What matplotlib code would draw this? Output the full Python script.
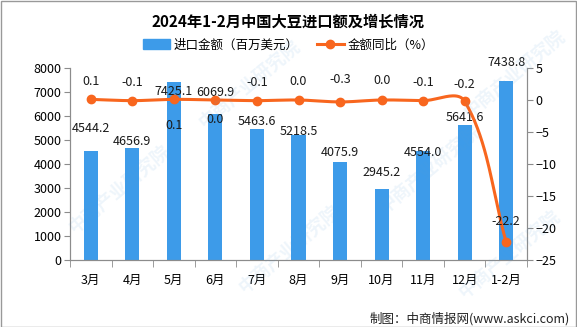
import numpy as np
import matplotlib
matplotlib.use("Agg")
import matplotlib.pyplot as plt
from matplotlib.patches import Rectangle
from matplotlib.lines import Line2D
from matplotlib.patches import Patch

plt.rcParams['font.family'] = ['Noto Sans CJK SC', 'DejaVu Sans']

months = ['3月', '4月', '5月', '6月', '7月', '8月', '9月', '10月', '11月', '12月', '1-2月']
amount = [4544.2, 4656.9, 7425.1, 6069.9, 5463.6, 5218.5, 4075.9, 2945.2, 4554.0, 5641.6, 7438.8]
growth = [0.1, -0.1, 0.1, 0.0, -0.1, 0.0, -0.3, 0.0, -0.1, -0.2, -22.2]

# label offsets in points (the source moved a few labels by hand)
bar_lbl_dy = [16, 5, -7, 16, 5, 2, 7, 12, -1, 5, 14]
line_lbl_dy = [13, 13, -19, -14, 13, 13, 16, 14, 13, 12, 15]

bar_color = '#3d9be9'
line_color = '#f8661e'
grey = '#8c8c8c'

# pixel sizes of one x step / one y unit on the right axis, used for smoothing
SX, SY = 457 / 11, 192 / 30


def smooth(xs, ys, n=40):
    # bezier smoothing done in screen space, control arms scaled by segment length
    P = np.column_stack([np.asarray(xs, float) * SX, np.asarray(ys, float) * SY])
    m = len(P)
    D = np.zeros_like(P)
    for i in range(m):
        a = P[max(i - 1, 0)]
        b = P[min(i + 1, m - 1)]
        v = b - a
        D[i] = v / np.hypot(*v)
    t = np.linspace(0, 1, n)[:, None]
    out = []
    for i in range(m - 1):
        p0, p3 = P[i], P[i + 1]
        L = np.hypot(*(p3 - p0)) / 3
        c1 = p0 + D[i] * L
        c2 = p3 - D[i + 1] * L
        seg = ((1 - t) ** 3 * p0 + 3 * (1 - t) ** 2 * t * c1
               + 3 * (1 - t) * t ** 2 * c2 + t ** 3 * p3)
        out.append(seg)
    out = np.vstack(out)
    return out[:, 0] / SX, out[:, 1] / SY


fig = plt.figure(figsize=(5.77, 3.27), dpi=100)
ax = fig.add_axes([70 / 577, 67 / 327, 457 / 577, 192 / 327])
ax2 = ax.twinx()

x = np.arange(len(months))
ax.bar(x, amount, width=0.34, color=bar_color, zorder=2)
ax.set_xlim(-0.5, len(months) - 0.5)
ax.set_ylim(0, 8000)
ax.set_yticks(range(0, 8001, 1000))
ax.set_xticks(x)
ax.set_xticklabels(months, fontsize=9)
ax.set_xticks(np.arange(-0.5, len(months), 1), minor=True)
ax.tick_params(axis='x', which='major', length=0, pad=10)
ax.tick_params(axis='x', which='minor', length=5, color=grey)
ax.tick_params(axis='y', length=4, color=grey, labelsize=9, pad=2)

for xi, v, dy in zip(x, amount, bar_lbl_dy):
    ax.annotate(f'{v:.1f}', (xi, v), xytext=(0, dy), textcoords='offset points',
                ha='center', va='center', fontsize=9, color='#1a1a1a', zorder=5)

sx, sy = smooth(x, growth)
ax2.plot(sx, sy, color=line_color, lw=2.2, zorder=3)
ax2.plot(x, growth, 'o', color=line_color, ms=6, zorder=4)
ax2.set_ylim(-25, 5)
ax2.set_yticks(range(-25, 6, 5))
ax2.tick_params(axis='y', length=4, color=grey, labelsize=9, pad=2)
for xi, v, dy in zip(x, growth, line_lbl_dy):
    ax2.annotate(f'{v:.1f}', (xi, v), xytext=(0, dy), textcoords='offset points',
                 ha='center', va='center', fontsize=9, color='#1a1a1a', zorder=5)

for a in (ax, ax2):
    a.spines['top'].set_visible(False)
    for s in ('left', 'right', 'bottom'):
        a.spines[s].set_color(grey)

fig.text(0.5, 1 - 22 / 327, '2024年1-2月中国大豆进口额及增长情况', ha='center', va='center',
         fontsize=11, fontweight='bold')
handles = [Patch(color=bar_color),
           Line2D([], [], color=line_color, lw=2.2, marker='o', ms=6)]
fig.legend(handles, ['进口金额（百万美元）', '金额同比（%）'], loc='center',
           bbox_to_anchor=(0.5, 1 - 45 / 327), ncol=2, frameon=False, fontsize=9,
           handlelength=2.2, handleheight=0.8, columnspacing=1.4, handletextpad=0.3)

fig.text(570 / 577, 1 - 319 / 327, '制图：中商情报网(www.askci.com)', ha='right', va='center',
         fontsize=9, color='#222222')

# faint watermark, kept inside the canvas
for px, py in [(120, 190), (250, 85), (290, 250), (430, 170), (515, 75), (510, 255)]:
    fig.text(px / 577, 1 - py / 327, '中商产业研究院', rotation=40, ha='center', va='center',
             fontsize=13, fontweight='bold', color='#5aa0d8', alpha=0.10, zorder=10)

fig.patches.append(Rectangle((0.5 / 577, 0.5 / 327), 1 - 1.5 / 577, 1 - 1.5 / 327,
                             transform=fig.transFigure, fill=False, ec='#999999', lw=1))

fig.savefig('out.png', dpi=100)
